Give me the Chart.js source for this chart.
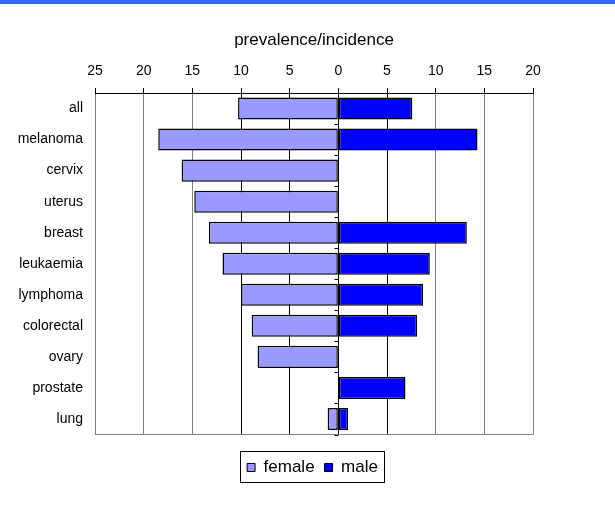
<!DOCTYPE html>
<html>
<head>
<meta charset="utf-8">
<script src="https://cdn.jsdelivr.net/npm/chart.js@4/dist/chart.umd.min.js"></script>
<style>
  html, body { margin: 0; padding: 0; background: #fff; }
  #wrap { position: relative; width: 615px; height: 517px; }
  #band { position: absolute; left: 0; top: 0; width: 615px; height: 4px; background: #3366ff; }
  canvas { display: block; }
</style>
</head>
<body>
<div id="wrap">
  <canvas id="chart" width="615" height="517"></canvas>
  <div id="band"></div>
</div>
<script>
// Ratio of prevalence to incidence by cancer site, split by sex
const categories = ['all', 'melanoma', 'cervix', 'uterus', 'breast', 'leukaemia',
                    'lymphoma', 'colorectal', 'ovary', 'prostate', 'lung'];
const femaleValues = [10.3, 18.5, 16.1, 14.8, 13.3, 11.9, 10.0, 8.9, 8.3, 0, 1.1];
const maleValues   = [7.6, 14.3, 0, 0, 13.2, 9.4, 8.7, 8.1, 0, 6.9, 1.0];
const axisTitle = 'prevalence/incidence';
const xMin = -25, xMax = 20, xStep = 5;

const FONT = "'Liberation Sans', Arial, sans-serif";
const GRID_GREY = '#808080';

// Dark grid lines near zero, grey ones further out
function gridColor(ctx) {
  const v = ctx.tick ? ctx.tick.value : null;
  if (v === null) return GRID_GREY;
  return (v >= -10 && v <= 5) ? '#000000' : GRID_GREY;
}

// Short tick marks on the zero line between categories
const zeroTicks = {
  id: 'zeroTicks',
  afterDatasetsDraw(chart) {
    const { ctx, scales: { x, y } } = chart;
    const x0 = Math.round(x.getPixelForValue(0)) + 0.5;
    const band = y.getPixelForValue(1) - y.getPixelForValue(0);
    ctx.save();
    ctx.strokeStyle = '#000';
    ctx.lineWidth = 1;
    ctx.beginPath();
    for (let i = 1; i <= categories.length; i++) {
      const yy = Math.round(y.getPixelForValue(i) - band / 2) + 0.5;
      ctx.moveTo(x0 - 4, yy);
      ctx.lineTo(x0, yy);
    }
    ctx.stroke();
    ctx.restore();
  }
};

// Frame round the legend entries
const legendFrame = {
  id: 'legendFrame',
  afterDraw(chart) {
    const lg = chart.legend;
    if (!lg || !lg.legendHitBoxes || !lg.legendHitBoxes.length) return;
    const boxes = lg.legendHitBoxes;
    let l = Infinity, r = -Infinity, t = Infinity, b = -Infinity;
    boxes.forEach(h => {
      l = Math.min(l, h.left); r = Math.max(r, h.left + h.width);
      t = Math.min(t, h.top); b = Math.max(b, h.top + h.height);
    });
    const ctx = chart.ctx;
    ctx.save();
    ctx.strokeStyle = '#000';
    ctx.lineWidth = 1;
    ctx.strokeRect(Math.round(l - 7) + 0.5, Math.round(t - 8) + 0.5,
                   Math.round(r - l + 13), Math.round(b - t + 14));
    ctx.restore();
  }
};

new Chart(document.getElementById('chart'), {
  type: 'bar',
  data: {
    labels: categories,
    datasets: [
      {
        label: 'female',
        data: femaleValues.map(v => -v),
        backgroundColor: '#9999ff',
        borderColor: '#000',
        borderWidth: 1.5,
        borderSkipped: false,
        barPercentage: 0.71,
        categoryPercentage: 1.0
      },
      {
        label: 'male',
        data: maleValues,
        backgroundColor: '#0000ff',
        borderColor: '#000',
        borderWidth: 1.5,
        borderSkipped: false,
        barPercentage: 0.71,
        categoryPercentage: 1.0
      }
    ]
  },
  options: {
    indexAxis: 'y',
    responsive: false,
    animation: false,
    layout: { padding: { left: 10, right: 0, top: 0, bottom: 31 } },
    scales: {
      x: {
        position: 'top',
        min: xMin,
        max: xMax,
        stacked: true,
        afterFit(s) { s.height = 93; },
        ticks: {
          stepSize: xStep,
          padding: 8,
          color: '#000',
          font: { family: FONT, size: 14 },
          callback: v => String(Math.abs(v))
        },
        grid: {
          color: gridColor,
          tickColor: '#000',
          tickLength: 5,
          lineWidth: 1
        },
        border: { display: true, color: '#000', width: 1 },
        title: {
          display: true,
          text: axisTitle,
          color: '#000',
          font: { family: FONT, size: 17 },
          padding: { top: 30, bottom: 0 }
        }
      },
      xGap: {
        type: 'linear',
        axis: 'x',
        position: 'bottom',
        display: true,
        afterFit(s) { s.height = 14.5; },
        ticks: { display: false },
        grid: { display: false },
        border: { display: false }
      },
      y: {
        stacked: true,
        afterFit(s) { s.width = 85; },
        ticks: {
          padding: 12,
          color: '#000',
          font: { family: FONT, size: 14 }
        },
        grid: {
          offset: true,
          drawTicks: false,
          color: ctx => (ctx.type === 'scale' ? GRID_GREY : 'transparent')
        },
        border: { display: false }
      },
      ySpacer: {
        type: 'category',
        axis: 'y',
        position: 'right',
        display: true,
        afterFit(s) { s.width = 82; },
        ticks: { display: false },
        grid: { display: false },
        border: { display: false }
      }
    },
    plugins: {
      legend: {
        position: 'bottom',
        labels: {
          boxWidth: 8,
          boxHeight: 8,
          padding: 10,
          color: '#000',
          font: { family: FONT, size: 17 },
          generateLabels(chart) {
            return chart.data.datasets.map((ds, i) => ({
              text: ds.label,
              fillStyle: ds.backgroundColor,
              strokeStyle: '#000',
              lineWidth: 1,
              hidden: false,
              datasetIndex: i
            }));
          }
        }
      },
      tooltip: { enabled: false }
    }
  },
  plugins: [zeroTicks, legendFrame]
});
</script>
</body>
</html>
